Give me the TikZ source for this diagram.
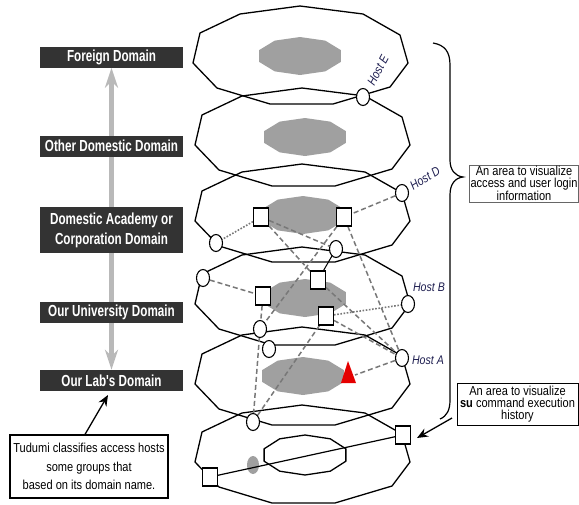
\documentclass[tikz,border=0pt]{standalone}
\usepackage{fontspec}
\newfontfamily\nar[FakeStretch=0.85]{Liberation Sans}
\newfontfamily\narB[FakeStretch=0.73]{Liberation Sans}
\usetikzlibrary{shapes.geometric,arrows.meta}
\definecolor{boxdark}{RGB}{51,51,51}
\definecolor{blobgray}{RGB}{160,160,160}
\definecolor{linkgray}{RGB}{120,120,120}
\definecolor{arrowgray}{RGB}{185,185,185}
\definecolor{hostblue}{RGB}{30,30,80}
\pgfdeclarelayer{bg}
\pgfdeclarelayer{mid}
\pgfsetlayers{bg,mid,main}
\tikzset{
  dombox/.style={fill=boxdark,text=white,minimum width=143pt,minimum height=21pt,inner sep=0pt,align=center,font=\narB\bfseries\fontsize{16}{20}\selectfont},
  host/.style={ellipse,draw,fill=white,line width=1.1pt,minimum width=13pt,minimum height=17pt,inner sep=0pt},
  sq/.style={rectangle,draw,fill=white,line width=1.1pt,minimum width=15pt,minimum height=18pt,inner sep=0pt},
  dashlink/.style={draw=linkgray,line width=1.5pt,dash pattern=on 5pt off 3pt},
  dotlink/.style={draw=linkgray,line width=1.6pt,dash pattern=on 1.6pt off 1.6pt},
  layerline/.style={line width=1.3pt,line join=round},
  hostlab/.style={text=hostblue,font=\nar\itshape\fontsize{12.5}{14}\selectfont,inner sep=0pt},
  notebox/.style={draw,line width=1pt,align=center,inner sep=1pt},
  layer/.pic={\draw[layerline] (0,-51) -- (63,-43) -- (100,-22) -- (108,6) -- (90,30) -- (33,47) -- (-30,47) -- (-83,31) -- (-107,6) -- (-100,-24) -- (-60,-43) -- cycle;},
  blob/.pic={\fill[blobgray] plot[samples=11,domain=18:378,variable=\t] ({43*cos(\t)},{19*sin(\t)}) -- cycle;}
}
\begin{document}
\begin{tikzpicture}[x=1pt,y=-1pt]
\useasboundingbox (0,0) rectangle (579,504);

% domain boxes
\node[dombox] (fd) at (111.5,57) {Foreign Domain};
\node[dombox] (od) at (111.5,146) {Other Domestic Domain};
\node[dombox,minimum height=46pt] (da) at (111.5,230) {Domestic Academy or\\Corporation Domain};
\node[dombox] (ou) at (111.5,312.5) {Our University Domain};
\node[dombox] (ol) at (111.5,380.5) {Our Lab's Domain};

\begin{pgfonlayer}{bg}
\draw[arrowgray,line width=4.5pt,{Stealth[length=20pt,width=13pt]}-{Stealth[length=20pt,width=13pt]}] (fd.south) -- (ol.north);
% layers
\pic at (300,57) {layer};
\pic at (302,139) {layer};
\pic at (302,215) {layer};
\pic at (302,298) {layer};
\pic at (302,378) {layer};
\pic at (302,456) {layer};
% blobs
\pic at (300,56) {blob};
\pic at (305,137) {blob};
\pic at (303,215) {blob};
\pic at (305,298) {blob};
\pic at (303,376) {blob};
\draw[layerline] plot[samples=11,domain=18:378,variable=\t] ({305+43*cos(\t)},{455+20*sin(\t)}) -- cycle;
\fill[blobgray] (253,465) ellipse [x radius=6,y radius=9];
\end{pgfonlayer}

% hosts
\node[host] (hE) at (363,97) {};
\node[host] (hD) at (402,193) {};
\node[host] (c3L) at (216,243) {};
\node[host] (c34) at (336,249) {};
\node[host] (c4L) at (203,278) {};
\node[host] (hB) at (408,304) {};
\node[host] (c4a) at (260,329) {};
\node[host] (c4b) at (269,349) {};
\node[host] (hA) at (402,358) {};
\node[host] (c56) at (253,422) {};
% squares
\node[sq] (s3L) at (261,217) {};
\node[sq] (s3R) at (344,217) {};
\node[sq] (s4T) at (318,280) {};
\node[sq] (s4L) at (263,296) {};
\node[sq] (s4R) at (326,316) {};
\node[sq] (s6R) at (403,435) {};
\node[sq] (s6L) at (210,477) {};
% red triangle
\fill[red!90!black] (348,361) -- (356,383) -- (341,383) -- cycle;
\coordinate (tri) at (355,375);

\begin{pgfonlayer}{mid}
\draw[dashlink] (hD) -- (s3R);
\draw[dashlink] (s3L) -- (c34);
\draw[dashlink] (s3L) -- (s4T);
\draw[dashlink] (s3R) -- (c4a);
\draw[dashlink] (s3R) -- (hA);
\draw[dashlink] (s4T) -- (hA);
\draw[dashlink] (c4L) -- (s4L);
\draw[dashlink] (s4L) -- (c4a);
\draw[dashlink] (c4a.center) -- (c56);
\draw[dashlink] (s4R) -- (c56);
\draw[dashlink] (s4R) -- (hA);
\draw[dashlink] (hA) -- (tri);
\draw[dotlink] (s3L) -- (c3L);
\draw[dotlink] (s4R) -- (hB);
\draw[line width=1pt] (c34) -- (s4T);
\draw[line width=1.2pt] (s6L) -- (s6R);
\end{pgfonlayer}

% host labels
\node[hostlab,rotate=62] (lE) at (378,70) {Host E};
\node[hostlab,rotate=32] (lD) at (425,178) {Host D};
\node[hostlab] (lB) at (429,287) {Host B};
\node[hostlab] (lA) at (428,360) {Host A};

% brace
\draw[line width=1.2pt] (433,43) .. controls (445,45) and (450,52) .. (450,65) -- (450,160) .. controls (450,170) and (455,176) .. (463,177) .. controls (455,178) and (450,184) .. (450,195) -- (450,400) .. controls (450,410) and (447,416) .. (440,419);

% notes
\node[notebox,draw=black!60,minimum width=108pt,minimum height=37pt,font=\nar\fontsize{13}{12}\selectfont] (n1) at (524,183.5) {An area to visualize\\access and user login\\information};
\node[notebox,minimum width=121pt,minimum height=42pt,font=\nar\fontsize{13}{12}\selectfont] (n2) at (517.5,404) {An area to visualize\\\textbf{su} command execution\\history};
\coordinate (n2tail) at (452,418);
\coordinate (n2tip) at (417,438);
\draw[line width=1.3pt,-{Stealth[length=11pt,width=9pt]}] (n2tail) -- (n2tip);

\node[notebox,line width=1.2pt,minimum width=158pt,minimum height=63pt,font=\nar\fontsize{13}{18.5}\selectfont] (tb) at (89,466.5) {Tudumi classifies access hosts\\some groups that\\based on its domain name.};
\coordinate (tbtip) at (108,395);
\draw[line width=1.3pt,-{Stealth[length=11pt,width=9pt]}] ([xshift=-4pt]tb.north) -- (tbtip);
\end{tikzpicture}
\end{document}
